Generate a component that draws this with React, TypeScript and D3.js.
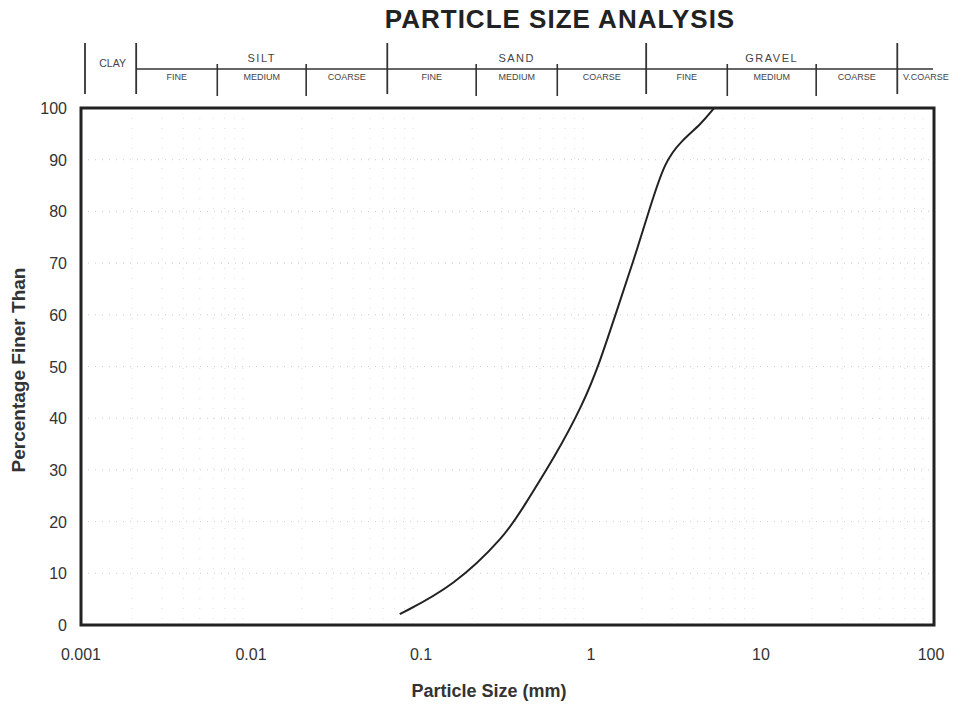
import React from "react";
import * as d3 from "d3";

const sizes = [0.075, 0.156, 0.312, 0.393, 0.622, 0.897, 1.13, 1.4, 1.77, 2.22, 2.72, 3.39, 4.44, 5.3];
const finer = [2.1, 7.5, 17.2, 22.4, 32.9, 42.7, 50.9, 60.3, 70.2, 80.7, 89.7, 93.6, 96.9, 100];

const xTicks = [0.001, 0.01, 0.1, 1, 10, 100];
const xTickLabels = ["0.001", "0.01", "0.1", "1", "10", "100"];
const yTicks = [0, 10, 20, 30, 40, 50, 60, 70, 80, 90, 100];

const majorBounds = [0.001, 0.002, 0.06, 2, 60];
const minorBounds = [0.006, 0.02, 0.2, 0.6, 6, 20];
const mainLabels = ["SILT", "SAND", "GRAVEL"];
const mainSpans = [[0.002, 0.06], [0.06, 2], [2, 60]];
const subLabels = ["FINE", "MEDIUM", "COARSE", "FINE", "MEDIUM", "COARSE", "FINE", "MEDIUM", "COARSE", "V.COARSE"];
const subSpans = [[0.002, 0.006], [0.006, 0.02], [0.02, 0.06], [0.06, 0.2], [0.2, 0.6], [0.6, 2], [2, 6], [6, 20], [20, 60], [60, 130]];

export default function App() {
  const W = 973, H = 705;
  const left = 81, right = 931, top = 108, bottom = 625;
  const x = d3.scaleLog().domain([0.001, 100]).range([left, right]);
  const xh = d3.scaleLog().domain([0.001, 100]).range([left + 4, right + 4]);
  const y = d3.scaleLinear().domain([0, 100]).range([bottom, top]);
  const pts = sizes.map((s, i) => [s, finer[i]] as [number, number]);
  const line = d3.line<[number, number]>().x(d => x(d[0])).y(d => y(d[1])).curve(d3.curveBasis);

  const minor: number[] = [];
  for (let e = -3; e < 2; e++) for (let m = 2; m <= 9; m++) minor.push(m * Math.pow(10, e));
  const font = "Liberation Sans, Arial, sans-serif";

  return (
    <svg width={W} height={H} style={{ position: "absolute", left: 0, top: 0, background: "#fff" }} fontFamily={font}>
      <rect x={0} y={0} width={W} height={H} fill="#fff" />
      <text x={560} y={28} textAnchor="middle" fontSize={26} fontWeight="bold" letterSpacing={1} fill="#222">PARTICLE SIZE ANALYSIS</text>

      {/* header classification */}
      <line x1={xh(0.002)} x2={xh(100) - 2} y1={69} y2={69} stroke="#333" strokeWidth={1.5} />
      {majorBounds.map((b, i) => (
        <line key={"mb" + i} x1={xh(b)} x2={xh(b)} y1={43} y2={94} stroke="#333" strokeWidth={1.8} />
      ))}
      {minorBounds.map((b, i) => (
        <line key={"nb" + i} x1={xh(b)} x2={xh(b)} y1={64} y2={96} stroke="#333" strokeWidth={1.6} />
      ))}
      <text x={(xh(0.001) + xh(0.002)) / 2 + 2} y={67} textAnchor="middle" fontSize={10.5} fill="#444">CLAY</text>
      {mainLabels.map((l, i) => (
        <text key={"ml" + i} x={(xh(mainSpans[i][0]) + xh(mainSpans[i][1])) / 2} y={62} textAnchor="middle" fontSize={11} letterSpacing={1.5} fill="#444">{l}</text>
      ))}
      {subLabels.map((l, i) => (
        <text key={"sl" + i} x={(xh(subSpans[i][0]) + xh(subSpans[i][1])) / 2} y={80} textAnchor="middle" fontSize={9} fill="#444">{l}</text>
      ))}

      {/* grid */}
      {yTicks.slice(1, -1).map(t => (
        <line key={"gy" + t} x1={left} x2={right} y1={y(t)} y2={y(t)} stroke="#aaa" strokeWidth={1} strokeDasharray="1 6" opacity={0.6} />
      ))}
      {minor.map((m, i) => (
        <line key={"gx" + i} x1={x(m)} x2={x(m)} y1={top} y2={bottom} stroke="#bbb" strokeWidth={1} strokeDasharray="1 9" opacity={0.45} />
      ))}

      {/* frame */}
      <rect x={left} y={top} width={right - left + 3} height={bottom - top} fill="none" stroke="#222" strokeWidth={3} />

      {/* curve */}
      <path d={line(pts) || ""} fill="none" stroke="#222" strokeWidth={2} />

      {/* y ticks */}
      {yTicks.map(t => (
        <text key={"yt" + t} x={67} y={y(t) + 6} textAnchor="end" fontSize={16} fill="#333">{t}</text>
      ))}
      {/* x ticks */}
      {xTicks.map((t, i) => (
        <text key={"xt" + t} x={x(t)} y={660} textAnchor="middle" fontSize={16} fill="#333">{xTickLabels[i]}</text>
      ))}

      <text x={489} y={697} textAnchor="middle" fontSize={18} fontWeight="bold" fill="#333">Particle Size (mm)</text>
      <text transform={`translate(25,${370}) rotate(-90)`} textAnchor="middle" fontSize={19} fontWeight="bold" fill="#333">Percentage Finer Than</text>
    </svg>
  );
}
